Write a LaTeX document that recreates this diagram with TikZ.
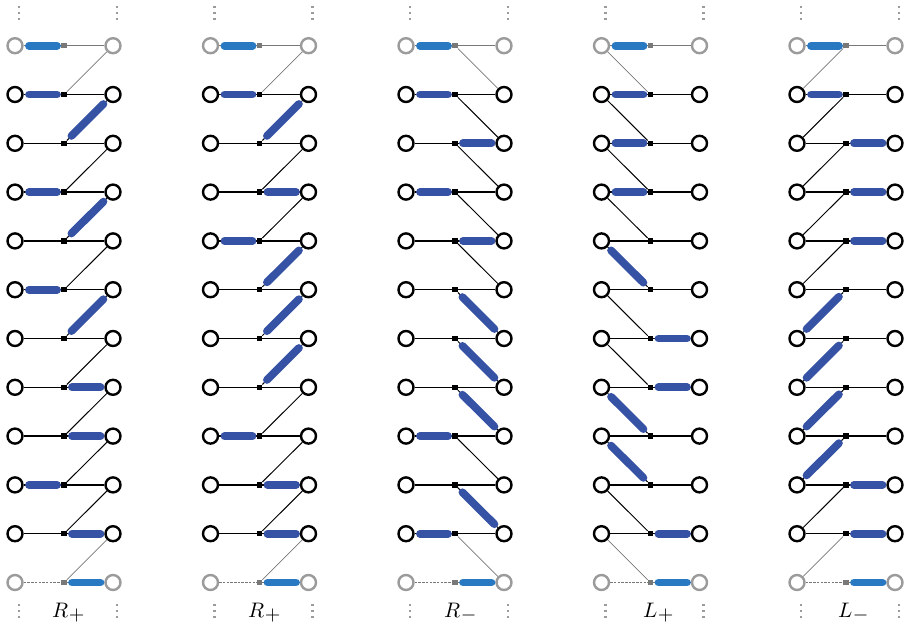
\RequirePackage{fix-cm}
\documentclass[tikz,border=0pt]{standalone}
\usepackage{graphicx}
\usetikzlibrary{calc}
\definecolor{dimer}{RGB}{54,82,165}
\definecolor{edimer}{RGB}{40,120,194}
\definecolor{bgray}{RGB}{155,155,155}
\definecolor{lgray}{RGB}{120,120,120}
\tikzset{
 site/.style={circle,draw=black,fill=white,line width=2.4pt,minimum size=15pt,inner sep=0pt},
 gsite/.style={site,draw=bgray},
 sq/.style={rectangle,fill=black,minimum size=5.3pt,inner sep=0pt},
 gsq/.style={sq,fill=lgray},
 hbond/.style={line width=1.3pt,black},
 dbond/.style={line width=1pt,black},
 gbond/.style={line width=0.7pt,lgray},
 gdash/.style={gbond,dash pattern=on 2.5pt off 1.2pt},
 bar/.style={line width=7.8pt,draw=dimer,line cap=round},
 ebar/.style={bar,draw=edimer},
 lab/.style={anchor=base west,inner sep=0pt},
}
\newcommand\LB[3][bar]{\draw[#1] ($(L-#2-#3.center)!14pt!(S-#2-#3.center)$) -- ($(S-#2-#3.center)!7pt!(L-#2-#3.center)$);}
\newcommand\RB[3][bar]{\draw[#1] ($(R-#2-#3.center)!12.5pt!(S-#2-#3.center)$) -- ($(S-#2-#3.center)!8pt!(R-#2-#3.center)$);}
\newcommand\DR[3]{\draw[bar] ($(R-#1-#3.center)!13.5pt!(S-#1-#2.center)$) -- ($(S-#1-#2.center)!10.5pt!(R-#1-#3.center)$);}
\newcommand\DL[3]{\draw[bar] ($(L-#1-#3.center)!13.5pt!(S-#1-#2.center)$) -- ($(S-#1-#2.center)!10pt!(L-#1-#3.center)$);}
\newcommand\labtext[2]{\scalebox{2.1}{$#1$}\kern0.5pt\raisebox{-3.5pt}{\scalebox{2.0}{$#2$}}}
\begin{document}
\begin{tikzpicture}[x=1pt,y=-1pt]
\useasboundingbox (0,0) rectangle (906,627);
\foreach \c in {0,...,4}{
  \pgfmathsetmacro\xl{15+195.5*\c}
  \pgfmathsetmacro\xs{\xl+49}
  \pgfmathsetmacro\xr{\xl+98}
  \foreach \i in {0,...,11}{
    \pgfmathsetmacro\yy{45.7+48.8*\i}
    \ifnum\i=0
      \node[gsite] (L-\c-\i) at (\xl,\yy) {};
      \node[gsq] (S-\c-\i) at (\xs,\yy) {};
      \node[gsite] (R-\c-\i) at (\xr,\yy) {};
    \else\ifnum\i=11
      \node[gsite] (L-\c-\i) at (\xl,\yy) {};
      \node[gsq] (S-\c-\i) at (\xs,\yy) {};
      \node[gsite] (R-\c-\i) at (\xr,\yy) {};
    \else
      \node[site] (L-\c-\i) at (\xl,\yy) {};
      \node[sq] (S-\c-\i) at (\xs,\yy) {};
      \node[site] (R-\c-\i) at (\xr,\yy) {};
    \fi\fi
  }
  % vertical dots
  \foreach \yd in {7,13,19,605,611,617}{
    \fill[bgray] (\xl+4-1.4,\yd-1.4) rectangle ++(2.8,2.8);
    \fill[bgray] (\xr+4-1.4,\yd-1.4) rectangle ++(2.8,2.8);
  }
  % horizontal bonds
  \foreach \i in {1,...,10}{
    \draw[hbond] (L-\c-\i) -- (S-\c-\i) -- (R-\c-\i);
  }
  \draw[gbond] (L-\c-0) -- (S-\c-0) -- (R-\c-0);
  \draw[gdash] (L-\c-11) -- (S-\c-11);
  \draw[gbond] (S-\c-11) -- (R-\c-11);
}
% diagonal bonds: R+ (columns 0,1)
\foreach \c in {0,1}{
  \foreach \i [evaluate=\i as \j using int(\i-1)] in {2,...,10}{
    \draw[dbond] (S-\c-\i) -- (R-\c-\j);
  }
  \draw[gbond] (S-\c-1) -- (R-\c-0);
  \draw[gbond] (S-\c-11) -- (R-\c-10);
}
% R- (column 2)
\foreach \i [evaluate=\i as \j using int(\i+1)] in {1,...,9}{
  \draw[dbond] (S-2-\i) -- (R-2-\j);
}
\draw[gbond] (S-2-0) -- (R-2-1);
\draw[gbond] (S-2-10) -- (R-2-11);
% L+ (column 3)
\foreach \i [evaluate=\i as \j using int(\i-1)] in {2,...,10}{
  \draw[dbond] (L-3-\j) -- (S-3-\i);
}
\draw[gbond] (L-3-0) -- (S-3-1);
\draw[gbond] (L-3-10) -- (S-3-11);
% L- (column 4)
\foreach \i [evaluate=\i as \j using int(\i+1)] in {1,...,9}{
  \draw[dbond] (L-4-\j) -- (S-4-\i);
}
\draw[gbond] (L-4-1) -- (S-4-0);
\draw[gbond] (L-4-11) -- (S-4-10);
% boundary dimers
\foreach \c in {0,...,4}{
  \LB[ebar]{\c}{0}
  \RB[ebar]{\c}{11}
}
% column 0 (R+)
\LB{0}{1}\LB{0}{3}\LB{0}{5}\LB{0}{9}
\RB{0}{7}\RB{0}{8}\RB{0}{10}
\DR{0}{2}{1}\DR{0}{4}{3}\DR{0}{6}{5}
% column 1 (R+)
\LB{1}{1}\LB{1}{4}\LB{1}{8}
\RB{1}{3}\RB{1}{9}\RB{1}{10}
\DR{1}{2}{1}\DR{1}{5}{4}\DR{1}{6}{5}\DR{1}{7}{6}
% column 2 (R-)
\LB{2}{1}\LB{2}{3}\LB{2}{8}\LB{2}{10}
\RB{2}{2}\RB{2}{4}
\DR{2}{5}{6}\DR{2}{6}{7}\DR{2}{7}{8}\DR{2}{9}{10}
% column 3 (L+)
\LB{3}{1}\LB{3}{2}\LB{3}{3}
\RB{3}{6}\RB{3}{7}\RB{3}{10}
\DL{3}{5}{4}\DL{3}{8}{7}\DL{3}{9}{8}
% column 4 (L-)
\LB{4}{1}
\RB{4}{2}\RB{4}{3}\RB{4}{4}\RB{4}{9}\RB{4}{10}
\DL{4}{5}{6}\DL{4}{6}{7}\DL{4}{7}{8}\DL{4}{8}{9}
% labels
\node[lab] (t0) at (52,617) {\labtext{R}{+}};
\node[lab] (t1) at (248,617) {\labtext{R}{+}};
\node[lab] (t2) at (444,617) {\labtext{R}{-}};
\node[lab] (t3) at (643,617) {\labtext{L}{+}};
\node[lab] (t4) at (838,617) {\labtext{L}{-}};
\end{tikzpicture}
\end{document}
